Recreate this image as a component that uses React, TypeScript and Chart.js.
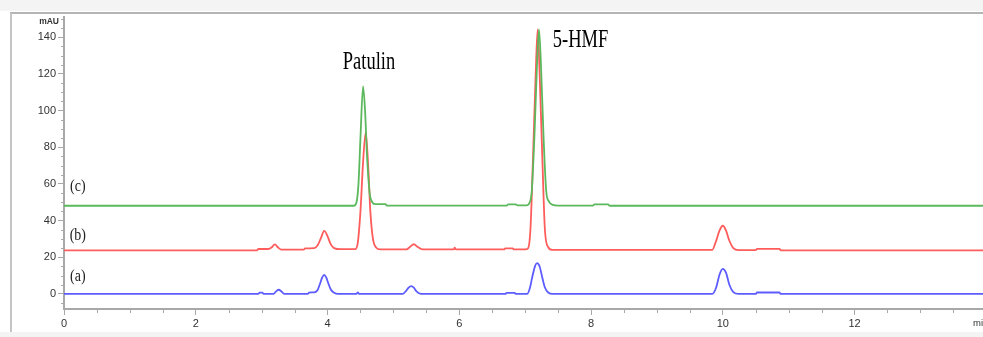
import React, { useEffect, useRef } from "react";
import { Chart, registerables } from "chart.js";

Chart.register(...registerables);

// Retention time (min) / absorbance (mAU) pairs
const traceA: [number, number][] = [
  [0, 0], [2.95, 0], [2.97, 0.7], [3.01, 0.7], [3.03, 0], [3.18, 0], [3.22, 1.4], [3.26, 2.3], [3.3, 1.4], [3.35, 0],
  [3.7, 0], [3.72, 0.7], [3.8, 0.9], [3.85, 2.2], [3.89, 6], [3.92, 9], [3.95, 10.4], [3.98, 9], [4.01, 6], [4.05, 2.4],
  [4.1, 0.6], [4.16, 0], [4.44, 0], [4.46, 0.9], [4.48, 0], [5.14, 0], [5.19, 1.6], [5.23, 3.4], [5.27, 4.3], [5.31, 3.4],
  [5.35, 1.4], [5.42, 0], [6.7, 0], [6.72, 0.6], [6.84, 0.6], [6.86, 0], [7.03, 0], [7.07, 3], [7.11, 9.5], [7.15, 15.2],
  [7.18, 16.8], [7.22, 15], [7.26, 9], [7.3, 3.5], [7.35, 0.8], [7.42, 0], [9.84, 0], [9.9, 3.5], [9.95, 10.5], [10.0, 13.7],
  [10.05, 11.5], [10.1, 5], [10.16, 1], [10.24, 0], [10.5, 0], [10.52, 0.8], [10.86, 0.8], [10.88, 0], [13.95, 0],
];

const traceB: [number, number][] = [
  [0, 23.8], [2.93, 23.8], [2.95, 24.5], [3.1, 24.5], [3.15, 25.3], [3.2, 27], [3.25, 25.3], [3.3, 24.2], [3.64, 24.2],
  [3.66, 24.8], [3.8, 25], [3.85, 26.5], [3.9, 30.5], [3.95, 34.4], [4.0, 31.5], [4.05, 27], [4.1, 25], [4.2, 24.4],
  [4.42, 24.4], [4.46, 28], [4.5, 45], [4.54, 72], [4.58, 88], [4.62, 68], [4.65, 45], [4.69, 30], [4.74, 25.2],
  [4.8, 24.3], [5.2, 24.3], [5.25, 25.6], [5.31, 27.1], [5.37, 25.6], [5.44, 24.3], [5.92, 24.3], [5.93, 25.2],
  [5.95, 24.3], [6.68, 24.3], [6.7, 24.9], [6.81, 24.9], [6.83, 24.3], [7.03, 24.5], [7.08, 35], [7.12, 75], [7.16, 120],
  [7.19, 144.3], [7.22, 120], [7.26, 75], [7.3, 35], [7.35, 25.5], [7.42, 24], [9.84, 24], [9.89, 28], [9.95, 34.5],
  [10.0, 37.2], [10.05, 34.5], [10.1, 29], [10.16, 25], [10.24, 23.9], [10.5, 23.9], [10.52, 24.6], [10.86, 24.6],
  [10.88, 23.8], [13.95, 23.8],
];

const traceC: [number, number][] = [
  [0, 48.1], [4.4, 48.1], [4.44, 50], [4.47, 60], [4.5, 85], [4.54, 113.2], [4.57, 100], [4.6, 75], [4.64, 55],
  [4.68, 50], [4.72, 49], [4.88, 49], [4.9, 48.2], [6.72, 48.2], [6.74, 48.8], [6.86, 48.8], [6.88, 48.3], [7.02, 48.3],
  [7.07, 50], [7.1, 56], [7.14, 85], [7.18, 125], [7.21, 144.3], [7.24, 125], [7.28, 85], [7.32, 56], [7.36, 50.5],
  [7.42, 48.6], [7.5, 48.2], [8.03, 48.2], [8.05, 48.8], [8.26, 48.8], [8.28, 48.1], [13.95, 48.1],
];

const traceLabels = ["(a)", "(b)", "(c)"];
const traceLabelX = [0.21, 0.21, 0.21];
const traceLabelY = [9.3, 31.7, 58.5];
const peakLabels = ["Patulin", "5-HMF"];
const peakLabelX = [4.63, 7.84];
const peakLabelY = [126, 138];
const yTickStep = 20;
const xTickStep = 2;
const yMinorStep = 5;
const xMinorStep = 0.5;

const AXIS = "#a8a8a8";

const framePlugin = {
  id: "frame",
  beforeDraw(chart: any) {
    const { ctx, width, height } = chart;
    ctx.save();
    ctx.fillStyle = "#ffffff";
    ctx.fillRect(0, 0, width, height);
    ctx.fillStyle = "#f4f4f4";
    ctx.fillRect(0, 0, width, 11);
    ctx.fillRect(0, 332, width, height - 332);
    ctx.strokeStyle = "#b4b4b4";
    ctx.lineWidth = 2;
    ctx.beginPath();
    ctx.moveTo(10, 13);
    ctx.lineTo(width, 13);
    ctx.stroke();
    ctx.strokeStyle = "#c4c4c4";
    ctx.beginPath();
    ctx.moveTo(11, 13);
    ctx.lineTo(11, 332);
    ctx.stroke();
    ctx.restore();
  },
  afterDraw(chart: any) {
    const { ctx, chartArea } = chart;
    const xs = chart.scales.x;
    const ys = chart.scales.y;
    ctx.save();
    ctx.strokeStyle = AXIS;
    ctx.lineWidth = 1;
    // minor y ticks
    for (let v = ys.min; v <= ys.max; v += 0.5) {
      const r = Math.round(v * 2) / 2;
      if (r % yMinorStep !== 0 || r % yTickStep === 0) continue;
      const py = Math.round(ys.getPixelForValue(r)) + 0.5;
      ctx.beginPath();
      ctx.moveTo(chartArea.left - 3, py);
      ctx.lineTo(chartArea.left - 1, py);
      ctx.stroke();
    }
    // minor x ticks
    for (let t = xMinorStep; t < xs.max; t += xMinorStep) {
      if (Math.abs(t % xTickStep) < 1e-6) continue;
      const px = Math.round(xs.getPixelForValue(t)) + 0.5;
      ctx.beginPath();
      ctx.moveTo(px, chartArea.bottom + 1);
      ctx.lineTo(px, chartArea.bottom + 4);
      ctx.stroke();
    }
    // axis units
    ctx.fillStyle = "#333";
    ctx.font = "bold 8.5px 'Liberation Sans', Arial, sans-serif";
    ctx.textAlign = "right";
    ctx.textBaseline = "middle";
    ctx.fillText("mAU", chartArea.left - 5, chartArea.top + 5);
    ctx.font = "9.5px 'Liberation Sans', Arial, sans-serif";
    ctx.textAlign = "left";
    ctx.fillText("min", chartArea.right - 10, chartArea.bottom + 14);
    // trace labels
    ctx.fillStyle = "#222";
    ctx.textAlign = "center";
    for (let i = 0; i < traceLabels.length; i++) {
      const px = xs.getPixelForValue(traceLabelX[i]);
      const py = ys.getPixelForValue(traceLabelY[i]);
      ctx.save();
      ctx.translate(px, py);
      ctx.scale(1, 1.2);
      ctx.font = "14px 'Liberation Serif', 'Times New Roman', serif";
      ctx.fillText(traceLabels[i], 0, 0);
      ctx.restore();
    }
    // peak labels
    ctx.fillStyle = "#000";
    for (let i = 0; i < peakLabels.length; i++) {
      const px = xs.getPixelForValue(peakLabelX[i]);
      const py = ys.getPixelForValue(peakLabelY[i]);
      ctx.save();
      ctx.translate(px, py);
      ctx.scale(1, 1.35);
      ctx.font = "18.5px 'Liberation Serif', 'Times New Roman', serif";
      ctx.fillText(peakLabels[i], 0, 0);
      ctx.restore();
    }
    ctx.restore();
  },
};

export default function App() {
  const ref = useRef<HTMLCanvasElement | null>(null);
  useEffect(() => {
    if (!ref.current) return;
    const toPts = (arr: [number, number][]) => arr.map(([x, y]) => ({ x, y }));
    const ds = (label: string, arr: [number, number][], color: string) => ({
      label,
      data: toPts(arr),
      borderColor: color,
      backgroundColor: color,
      borderWidth: 1.8,
      pointRadius: 0,
      fill: false,
      cubicInterpolationMode: "monotone" as const,
    });
    const tickFont = { family: "'Liberation Sans', Arial, sans-serif", size: 11 };
    const chart = new Chart(ref.current, {
      type: "line",
      data: {
        datasets: [
          ds("(c)", traceC, "#5cb85c"),
          ds("(b)", traceB, "#ff5c5c"),
          ds("(a)", traceA, "#5c5cff"),
        ],
      },
      options: {
        responsive: false,
        animation: false,
        devicePixelRatio: 1,
        layout: { padding: { top: 17, left: 0, right: 0, bottom: 0 } },
        plugins: { legend: { display: false }, tooltip: { enabled: false } },
        scales: {
          x: {
            type: "linear",
            min: 0,
            max: 13.95,
            afterFit: (s: any) => {
              s.height = 28;
            },
            border: { color: AXIS, width: 2 },
            grid: { display: true, drawOnChartArea: false, drawTicks: true, tickLength: 6, color: AXIS },
            ticks: {
              stepSize: xTickStep,
              includeBounds: false,
              autoSkip: false,
              maxRotation: 0,
              padding: 2,
              color: "#333",
              font: tickFont,
            },
          },
          y: {
            type: "linear",
            min: -8.2,
            max: 151,
            afterFit: (s: any) => {
              s.width = 64;
            },
            border: { color: AXIS, width: 2 },
            grid: { display: true, drawOnChartArea: false, drawTicks: true, tickLength: 6, color: AXIS },
            ticks: {
              stepSize: yTickStep,
              includeBounds: false,
              autoSkip: false,
              padding: 2,
              color: "#333",
              font: tickFont,
            },
          },
        },
      },
      plugins: [framePlugin],
    });
    return () => chart.destroy();
  }, []);
  return (
    <div style={{ position: "absolute", left: 0, top: 0, width: 983, height: 337 }}>
      <canvas ref={ref} width={983} height={337} style={{ display: "block" }} />
    </div>
  );
}
